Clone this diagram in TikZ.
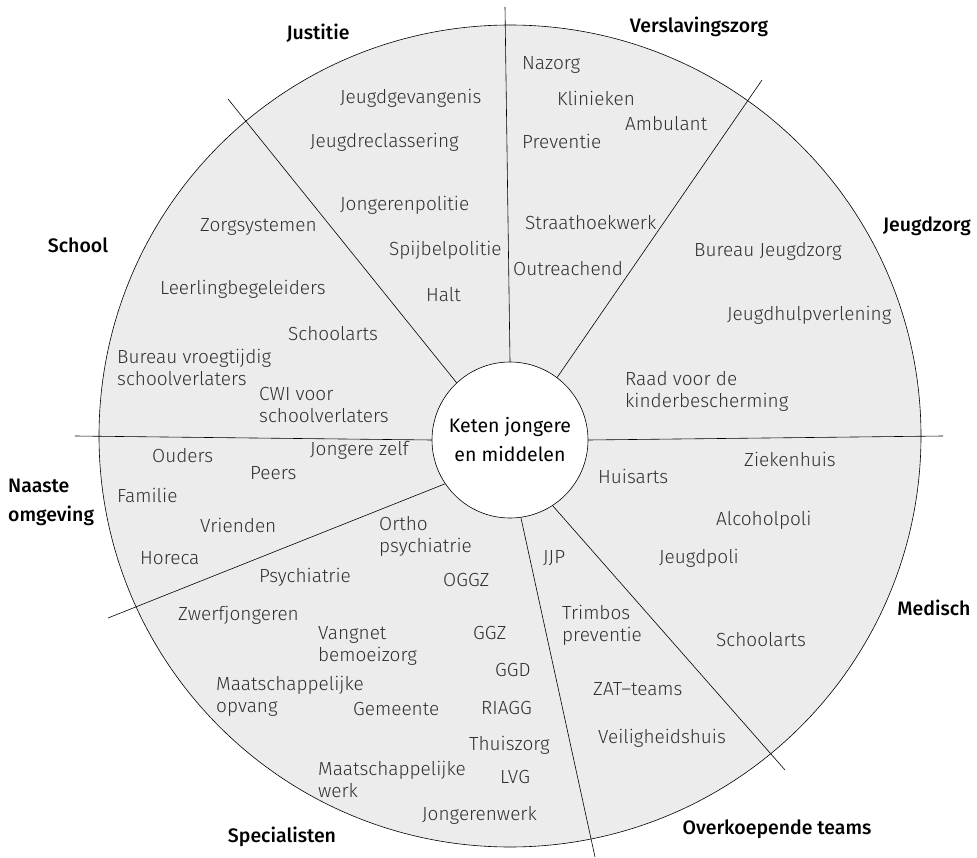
\documentclass[tikz,border=0pt]{standalone}
\usepackage{fontspec}
\setmainfont{Fira Sans}[UprightFont=* Light, BoldFont=* Medium]
\newfontfamily\hubfont{Fira Sans}
\definecolor{ring}{HTML}{EBECEB}
\definecolor{itemgray}{HTML}{303030}
\tikzset{
  item/.style={anchor=west, inner sep=0pt, text=itemgray, font=\fontsize{19}{22}\selectfont, align=left},
  head/.style={inner sep=0pt, text=black, font=\bfseries\fontsize{19.5}{29}\selectfont},
  sepline/.style={draw=black, line width=0.6pt},
}
\begin{document}
\begin{tikzpicture}[x=1pt,y=-1pt]
\useasboundingbox (0,0) rectangle (977,858);
\node[circle, draw, fill=ring, minimum size=822pt, inner sep=0pt, line width=0.6pt] (outer) at (510,436) {};
\node[circle, draw, fill=white, minimum size=156pt, inner sep=0pt, line width=0.6pt, align=center,
      font=\hubfont\fontsize{19.5}{29}\selectfont] (hub) at (510,440) {Keten jongere\\en middelen};
% outer free ends of the separating lines
\coordinate (eTop) at (505,7);
\coordinate (eJz) at (762,80);
\coordinate (eJu) at (228,99);
\coordinate (eL) at (75,436);
\coordinate (eR) at (943,436);
\coordinate (eNa) at (108,618);
\coordinate (eSp) at (595,857);
\coordinate (eOv) at (785,770);
\draw[sepline] (hub.90.5) -- (eTop);
\draw[sepline] (hub.53) -- (eJz);
\draw[sepline] (hub.133) -- (eJu);
\draw[sepline] (hub.180) -- (eL);
\draw[sepline] (hub.0) -- (eR);
\draw[sepline] (hub.214.8) -- (eNa);
\draw[sepline] (hub.278.2) -- (eSp);
\draw[sepline] (hub.303.5) -- (eOv);
% headings
\node[head] (hJu) at (318,33) {Justitie};
\node[head] (hVe) at (699,27) {Verslavingszorg};
\node[head] (hJz) at (927,226) {Jeugdzorg};
\node[head] (hSc) at (78,245) {School};
\node[head, anchor=west, align=left] (hNa) at (8,502) {Naaste\\omgeving};
\node[head] (hMe) at (934,608) {Medisch};
\node[head] (hSp) at (282,837) {Specialisten};
\node[head] (hOv) at (777,829) {Overkoepende teams};
% Justitie
\node[item] (i1) at (340,98) {Jeugdgevangenis};
\node[item] (i2) at (310,142) {Jeugdreclassering};
\node[item] (i3) at (340,205) {Jongerenpolitie};
\node[item] (i4) at (389,250) {Spijbelpolitie};
\node[item] (i5) at (426,295) {Halt};
% School
\node[item] (i6) at (200,227) {Zorgsystemen};
\node[item] (i7) at (160,289) {Leerlingbegeleiders};
\node[item] (i8) at (288,334) {Schoolarts};
\node[item] (i9) at (117,367) {Bureau vroegtijdig\\schoolverlaters};
\node[item] (i10) at (259,405) {CWI voor\\schoolverlaters};
% Verslavingszorg
\node[item] (i11) at (522,65) {Nazorg};
\node[item] (i12) at (557,98) {Klinieken};
\node[item] (i13) at (625,124) {Ambulant};
\node[item] (i14) at (522,141) {Preventie};
\node[item] (i15) at (525,223) {Straathoekwerk};
\node[item] (i16) at (513,269) {Outreachend};
% Jeugdzorg
\node[item] (i17) at (694,251) {Bureau Jeugdzorg};
\node[item] (i18) at (727,315) {Jeugdhulpverlening};
\node[item] (i19) at (625,391) {Raad voor de\\kinderbescherming};
% Naaste omgeving
\node[item] (i20) at (152,456) {Ouders};
\node[item] (i21) at (310,450) {Jongere zelf};
\node[item] (i22) at (250,473) {Peers};
\node[item] (i23) at (117,495) {Familie};
\node[item] (i24) at (200,525) {Vrienden};
\node[item] (i25) at (140,558) {Horeca};
% Specialisten
\node[item] (i26) at (379,536) {Ortho\\psychiatrie};
\node[item] (i27) at (259,577) {Psychiatrie};
\node[item] (i28) at (443,580) {OGGZ};
\node[item] (i29) at (178,615) {Zwerfjongeren};
\node[item] (i30) at (318,646) {Vangnet\\bemoeizorg};
\node[item] (i31) at (473,633) {GGZ};
\node[item] (i32) at (495,670) {GGD};
\node[item] (i33) at (481,708) {RIAGG};
\node[item] (i34) at (216,696) {Maatschappelijke\\opvang};
\node[item] (i35) at (353,709) {Gemeente};
\node[item] (i36) at (469,745) {Thuiszorg};
\node[item] (i37) at (318,779) {Maatschappelijke\\werk};
\node[item] (i38) at (500,777) {LVG};
\node[item] (i39) at (422,815) {Jongerenwerk};
% Medisch
\node[item] (i40) at (744,459) {Ziekenhuis};
\node[item] (i41) at (598,476) {Huisarts};
\node[item] (i42) at (716,520) {Alcoholpoli};
\node[item] (i43) at (659,558) {Jeugdpoli};
\node[item] (i44) at (716,640) {Schoolarts};
% Overkoepende teams
\node[item] (i45) at (543,558) {JJP};
\node[item] (i46) at (562,625) {Trimbos\\preventie};
\node[item] (i47) at (593,689) {ZAT--teams};
\node[item] (i48) at (598,738) {Veiligheidshuis};
\end{tikzpicture}
\end{document}
